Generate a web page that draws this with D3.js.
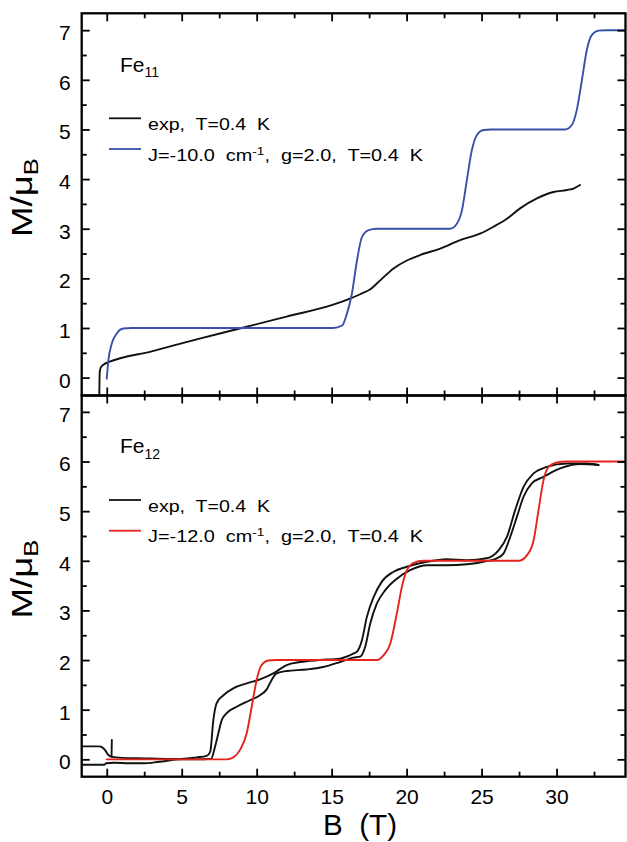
<!DOCTYPE html>
<html><head><meta charset="utf-8">
<script src="https://cdn.jsdelivr.net/npm/d3@7"></script>
<style>
body{margin:0;background:#fff;}
text{font-family:"Liberation Sans",Arial,sans-serif;fill:#000;white-space:pre;}
</style>
</head><body>
<svg id="chart" width="627" height="842" xmlns="http://www.w3.org/2000/svg"></svg>
<script>
// ---------- data ----------
const xMajorTicks = [0, 5, 10, 15, 20, 25, 30];
const xMinorTicks = [2.5, 7.5, 12.5, 17.5, 22.5, 27.5, 32.5];
const yMajorTicks = [0, 1, 2, 3, 4, 5, 6, 7];
const yMinorTicks = [0.5, 1.5, 2.5, 3.5, 4.5, 5.5, 6.5];

// Fe11 (top panel)
const fe11Theory = [[0.0,-0.02],[0.11,0.35],[0.33,0.68],[0.67,0.89],[1.11,0.99],[1.67,1.0],[15.1,1.0],[15.7,1.05],[16.0,1.27],[16.35,1.69],[16.69,2.36],[17.02,2.83],[17.47,2.97],[18.0,3.0],[22.9,3.0],[23.35,3.1],[23.69,3.37],[24.02,3.98],[24.35,4.58],[24.69,4.89],[25.13,4.99],[25.6,5.0],[30.57,5.0],[31.02,5.09],[31.35,5.39],[31.69,5.99],[32.02,6.6],[32.35,6.9],[32.8,6.99],[33.3,7.0],[34.6,7.0]];
const fe11Exp = [[-0.5,-0.45],[-0.47,0.1],[-0.42,0.19],[-0.33,0.23],[-0.18,0.27],[0.11,0.31],[3.0,0.53],[6.0,0.77],[9.0,1.0],[12.0,1.23],[15.0,1.46],[16.3,1.6],[16.9,1.68],[17.58,1.78],[18.24,1.96],[19.13,2.2],[20.02,2.36],[20.9,2.47],[22.24,2.6],[23.57,2.77],[24.9,2.9],[25.8,3.04],[26.69,3.2],[27.57,3.41],[28.69,3.61],[29.8,3.74],[30.69,3.78],[31.13,3.81],[31.57,3.88]];

// Fe12 (bottom panel)
const fe12Theory = [[0,0],[8.0,0.0],[8.44,0.04],[8.89,0.19],[9.33,0.52],[9.67,1.06],[10.0,1.6],[10.33,1.9],[10.78,1.99],[11.3,2.0],[18.02,2.0],[18.47,2.1],[18.91,2.33],[19.35,2.94],[19.69,3.48],[20.02,3.81],[20.47,3.96],[21.13,4.0],[27.47,4.0],[28.02,4.11],[28.47,4.41],[28.8,5.02],[29.13,5.62],[29.47,5.89],[30.02,5.98],[30.6,6.0],[34.6,6.0]];
const fe12ExpA = [[-1.67,0.26],[-0.5,0.26],[-0.3,0.24],[-0.1,0.18],[0.1,0.09],[0.35,0.05],[1.0,0.03],[2.5,0.02],[4.0,0.01],[5.0,0.01],[6.0,0.04],[6.67,0.07],[6.9,0.15],[7.11,0.79],[7.33,1.13],[7.78,1.29],[8.44,1.43],[9.33,1.53],[10.22,1.61],[11.11,1.73],[12.0,1.9],[12.89,1.96],[14.2,2.0],[15.56,2.03],[16.44,2.13],[16.69,2.17],[17.02,2.4],[17.35,2.87],[17.8,3.27],[18.35,3.58],[19.13,3.78],[20.02,3.88],[21.35,3.98],[22.69,4.03],[24.02,4.01],[25.35,4.05],[26.13,4.21],[26.69,4.48],[27.24,5.02],[27.8,5.49],[28.47,5.76],[29.35,5.89],[30.69,5.96],[32.02,5.96],[32.8,5.93]];
const fe12ExpB = [[-1.67,-0.11],[-0.15,-0.11],[-0.05,-0.08],[0.5,-0.07],[1.5,-0.08],[2.5,-0.08],[3.5,-0.05],[5.0,0.0],[6.0,0.0],[6.95,0.01],[7.22,0.25],[7.44,0.52],[7.67,0.79],[8.0,0.93],[8.67,1.06],[9.55,1.19],[10.22,1.29],[10.67,1.41],[11.0,1.6],[11.33,1.73],[12.0,1.78],[13.33,1.81],[14.44,1.86],[15.55,1.96],[16.44,2.05],[16.9,2.07],[17.24,2.27],[17.58,2.74],[18.02,3.14],[18.58,3.41],[19.35,3.64],[20.24,3.81],[21.35,3.91],[22.69,3.91],[24.02,3.93],[25.13,3.98],[26.02,4.05],[26.47,4.15],[26.91,4.48],[27.35,4.88],[27.8,5.29],[28.35,5.56],[29.13,5.69],[30.24,5.86],[31.57,5.95],[32.8,5.93]];
const fe12ExpSpike = [[0.32,0.05],[0.34,0.39]];

const legendTop = ["exp,  T=0.4  K", "J=-10.0  cm", "-1", ",  g=2.0,  T=0.4  K"];
const legendBot = ["exp,  T=0.4  K", "J=-12.0  cm", "-1", ",  g=2.0,  T=0.4  K"];

// ---------- layout ----------
const X0 = 81.7, X1 = 625.5;
const topY0 = 13.3, midY = 395.5, botY1 = 776.7;
const svg = d3.select("#chart");
svg.append("rect").attr("width",627).attr("height",842).attr("fill","#fff");

const x = d3.scaleLinear().domain([-1.67, 34.6]).range([X0, X1]);
const yTop = d3.scaleLinear().domain([-0.36, 7.34]).range([midY, topY0]);
const yBot = d3.scaleLinear().domain([-0.35, 7.33]).range([botY1, midY]);

const defs = svg.append("defs");
function clip(id, y0, y1){
  defs.append("clipPath").attr("id", id).append("rect")
    .attr("x", X0).attr("y", y0).attr("width", X1 - X0).attr("height", y1 - y0);
}
clip("clipTop", topY0, midY);
clip("clipBot", midY, botY1);

function styleAxis(g){
  g.select(".domain").remove();
  g.selectAll("line").attr("stroke","#000").attr("stroke-width",1.8);
}

function drawAxes(y, y0, y1, showXLabels){
  const g = svg.append("g");
  g.append("g").attr("transform",`translate(${X0},0)`)
    .call(d3.axisLeft(y).tickValues(yMajorTicks).tickSize(-8).tickSizeOuter(0).tickPadding(11).tickFormat(d3.format("d")))
    .call(styleAxis)
    .call(a => a.selectAll("text").attr("font-size",21).attr("font-family","Liberation Sans, Arial, sans-serif").attr("dy","0.45em"));
  g.append("g").attr("transform",`translate(${X0},0)`)
    .call(d3.axisLeft(y).tickValues(yMinorTicks).tickSize(-5).tickSizeOuter(0).tickFormat(""))
    .call(styleAxis);
  g.append("g").attr("transform",`translate(${X1},0)`)
    .call(d3.axisRight(y).tickValues(yMajorTicks).tickSize(-8).tickSizeOuter(0).tickFormat(""))
    .call(styleAxis);
  g.append("g").attr("transform",`translate(${X1},0)`)
    .call(d3.axisRight(y).tickValues(yMinorTicks).tickSize(-5).tickSizeOuter(0).tickFormat(""))
    .call(styleAxis);
  g.append("g").attr("transform",`translate(0,${y0})`)
    .call(d3.axisTop(x).tickValues(xMajorTicks).tickSize(-8).tickSizeOuter(0).tickFormat(""))
    .call(styleAxis);
  g.append("g").attr("transform",`translate(0,${y0})`)
    .call(d3.axisTop(x).tickValues(xMinorTicks).tickSize(-5).tickSizeOuter(0).tickFormat(""))
    .call(styleAxis);
  g.append("g").attr("transform",`translate(0,${y1})`)
    .call(d3.axisBottom(x).tickValues(xMajorTicks).tickSize(-8).tickSizeOuter(0).tickPadding(12)
      .tickFormat(showXLabels ? d3.format("d") : ""))
    .call(styleAxis)
    .call(a => a.selectAll("text").attr("font-size",21).attr("font-family","Liberation Sans, Arial, sans-serif"));
  g.append("g").attr("transform",`translate(0,${y1})`)
    .call(d3.axisBottom(x).tickValues(xMinorTicks).tickSize(-5).tickSizeOuter(0).tickFormat(""))
    .call(styleAxis);
  g.append("rect").attr("x",X0).attr("y",y0).attr("width",X1-X0).attr("height",y1-y0)
    .attr("fill","none").attr("stroke","#000").attr("stroke-width",2.3);
}

function drawLine(data, y, clipId, color, curve){
  const line = d3.line().x(d => x(d[0])).y(d => y(d[1])).curve(curve || d3.curveMonotoneX);
  svg.append("path").datum(data).attr("d", line)
    .attr("fill","none").attr("stroke",color).attr("stroke-width",1.9)
    .attr("stroke-linejoin","round").attr("stroke-linecap","round")
    .attr("clip-path",`url(#${clipId})`);
}

const BLUE = "#3a50a8", RED = "#e4231c", BLACK = "#111";

drawLine(fe11Exp, yTop, "clipTop", BLACK);
drawLine(fe11Theory, yTop, "clipTop", BLUE);
drawLine(fe12ExpB, yBot, "clipBot", BLACK);
drawLine(fe12ExpA, yBot, "clipBot", BLACK);
drawLine(fe12ExpSpike, yBot, "clipBot", BLACK, d3.curveLinear);
drawLine(fe12Theory, yBot, "clipBot", RED);

drawAxes(yTop, topY0, midY, false);
drawAxes(yBot, midY, botY1, true);

function feLabel(sub, bx, by){
  const t = svg.append("text").attr("x",bx).attr("y",by).attr("font-size",21);
  t.append("tspan").text("Fe");
  t.append("tspan").attr("font-size",14).attr("dy",5.5).text(sub);
}
feLabel("11", 120, 71.7);
feLabel("12", 120, 453.3);

function legend(items, color, lineY, baseY){
  svg.append("line").attr("x1",109).attr("x2",141).attr("y1",lineY).attr("y2",lineY)
    .attr("stroke",BLACK).attr("stroke-width",1.8);
  svg.append("text").attr("x",148).attr("y",baseY).attr("font-size",16)
    .attr("textLength",122).attr("lengthAdjust","spacingAndGlyphs").text(items[0]);
  svg.append("line").attr("x1",109).attr("x2",141).attr("y1",lineY+30.7).attr("y2",lineY+30.7)
    .attr("stroke",color).attr("stroke-width",1.8);
  const t = svg.append("text").attr("x",148).attr("y",baseY+30.7).attr("font-size",16)
    .attr("textLength",275).attr("lengthAdjust","spacingAndGlyphs");
  t.append("tspan").text(items[1]);
  t.append("tspan").attr("font-size",11).attr("dy",-6).text(items[2]);
  t.append("tspan").attr("dy",6).text(items[3]);
}
legend(legendTop, BLUE, 118.3, 130.3);
legend(legendBot, RED, 500, 511.7);

function yTitle(cy){
  const t = svg.append("text").attr("transform",`translate(32,${cy}) rotate(-90)`)
    .attr("text-anchor","middle").attr("font-size",30)
    .attr("textLength",79).attr("lengthAdjust","spacingAndGlyphs");
  t.append("tspan").text("M/\u03bc");
  t.append("tspan").attr("font-size",21).attr("dy",6).text("B");
}
yTitle(197.5);
yTitle(579);

svg.append("text").attr("x",360).attr("y",835).attr("text-anchor","middle")
  .attr("font-size",30).attr("textLength",74).attr("lengthAdjust","spacingAndGlyphs")
  .text("B  (T)");
</script>
</body></html>
